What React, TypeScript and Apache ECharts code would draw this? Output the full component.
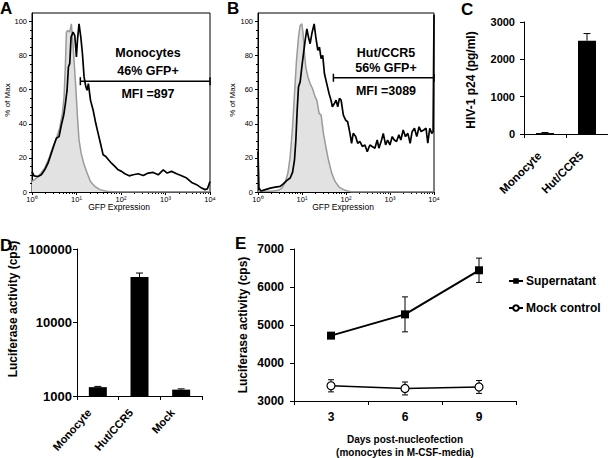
import React, { useEffect, useRef } from 'react';
import * as echarts from 'echarts';

const FONT = '"Liberation Sans", Arial, Helvetica, sans-serif';

// ---------- Panel A: monocytes, GFP histogram [GFP intensity, % of max]
const monoControl: number[][] = [
  [1.0, 6.2], [1.15, 7.2], [1.49, 10.1], [1.93, 14.0], [2.5, 20.8], [2.97, 26.7], [3.53, 31.5],
  [4.19, 37.4], [4.82, 46.1], [5.25, 55.8], [5.63, 74.3], [5.93, 93.8], [6.45, 94.7], [7.05, 93.8],
  [7.67, 98.6], [8.22, 88.9], [8.81, 77.2], [9.62, 61.7], [10.5, 44.2], [11.4, 30.5], [12.7, 22.8],
  [14.5, 16.9], [17.3, 11.1], [20.6, 6.2], [25.8, 3.3], [33.4, 1.4], [47.0, 0.4], [72.6, 0], [10000, 0],
];
const monoGFP: number[][] = [
  [1.0, 12], [1.11, 9.5], [1.36, 9.1], [1.62, 10.1], [1.93, 13.0], [2.29, 16.9], [2.72, 22.8],
  [3.13, 27.6], [3.53, 31.5], [4.05, 32.5], [4.57, 39.3], [5.16, 45.1], [5.63, 51.9], [6.14, 59.7],
  [6.58, 73.3], [7.05, 75.3], [7.55, 90.9], [8.38, 93.8], [9.14, 91.8], [9.96, 79.2], [10.5, 88.9],
  [11.4, 98.6], [12.5, 90.9], [13.6, 81.1], [14.8, 67.5], [16.2, 61.7], [17.3, 59.7], [18.5, 63.6],
  [20.6, 53.9], [23.6, 48.1], [27.1, 40.3], [30.6, 34.4], [34.5, 28.6], [39.7, 21.8], [45.6, 20.8],
  [52.3, 18.9], [61.1, 16.9], [72.6, 15.0], [86.3, 13.0], [103, 12.1], [122, 10.7], [153, 9.5],
  [188, 10.1], [243, 10.7], [316, 9.7], [409, 11.1], [530, 11.5], [687, 10.1], [889, 13.0],
  [1094, 11.1], [1370, 12.1], [1778, 10.7], [2301, 9.5], [2985, 8.2], [3866, 5.6], [5012, 4.3],
  [6490, 2.3], [7711, 1.4], [8710, 1.8], [10000, 6.2],
];
const gateA = [[12.2, 10000, 65]];
const textA = ['Monocytes', '46% GFP+', 'MFI =897'];

// ---------- Panel B: Hut/CCR5
const hutControl: number[][] = [
  [1.0, 0.4], [2.07, 0.4], [2.94, 1.0], [3.49, 2.3], [4.16, 5.6], [4.78, 11.1], [5.39, 20.8],
  [6.1, 38.3], [6.76, 57.8], [7.5, 77.2], [8.33, 90.9], [9.08, 97.7], [9.91, 98.6], [10.6, 92.8],
  [11.4, 81.1], [12.2, 73.3], [13.6, 67.5], [15.3, 63.6], [17.3, 60.7], [19.9, 55.8], [21.7, 53.9],
  [24.5, 46.1], [27.2, 45.1], [30.7, 34.4], [34.7, 26.7], [39.8, 18.9], [47.3, 11.1], [56.4, 6.2],
  [69.5, 2.9], [94.9, 1.0], [134, 0], [10000, 0],
];
const hutGFP: number[][] = [
  [1.0, 23.7], [1.05, 2.3], [1.17, 0.6], [1.47, 1.4], [1.9, 2.3], [2.47, 2.9], [3.2, 3.3],
  [3.81, 4.9], [4.53, 6.8], [5.39, 8.2], [6.1, 11.5], [6.76, 18.9], [7.25, 30.5], [7.77, 48.1],
  [8.33, 61.7], [9.08, 64.6], [9.91, 73.3], [10.8, 81.1], [11.8, 88.9], [12.9, 95.7], [14.0, 90.9],
  [15.3, 87.0], [16.7, 92.8], [18.9, 98.6], [20.6, 90.9], [22.9, 83.1], [24.9, 85.0], [27.2, 78.2],
  [29.6, 80.2], [32.3, 69.5], [36.5, 63.6], [41.2, 57.8], [45.6, 53.9], [49.0, 50.0], [54.4, 51.9],
  [59.4, 53.9], [64.9, 50.0], [70.9, 54.9], [77.4, 53.9], [87.0, 45.1], [98.3, 42.2], [109, 41.2],
  [123, 34.4], [134, 28.6], [146, 34.4], [166, 32.5], [184, 28.6], [208, 29.6], [235, 26.7],
  [269, 27.6], [304, 23.7], [349, 27.6], [394, 26.7], [453, 25.7], [512, 30.5], [559, 25.7],
  [644, 30.5], [703, 34.4], [794, 27.6], [881, 30.5], [995, 27.6], [1124, 32.5], [1247, 30.5],
  [1408, 29.6], [1590, 33.5], [1764, 30.5], [1992, 36.4], [2250, 32.5], [2543, 34.4], [2870, 28.6],
  [3184, 35.4], [3597, 37.4], [4060, 32.5], [4584, 38.3], [5087, 35.4], [5843, 36.4], [6596, 37.4],
  [7227, 28.6], [8016, 37.4], [8895, 34.4], [9539, 35.4], [10000, 104],
];
const gateB = [[51.7, 10000, 67]];
const textB = ['Hut/CCR5', '56% GFP+', 'MFI =3089'];

const histYTicks = [0, 20, 40, 60, 80, 100];
const histYMinor = [5, 10, 15, 25, 30, 35, 45, 50, 55, 65, 70, 75, 85, 90, 95];
const logMinor = [2, 3, 4, 5, 6, 7, 8, 9, 20, 30, 40, 50, 60, 70, 80, 90, 200, 300, 400, 500, 600, 700, 800, 900,
  2000, 3000, 4000, 5000, 6000, 7000, 8000, 9000];
const SUP = ['⁰', '¹', '²', '³', '⁴'];

// ---------- Panel C: HIV-1 p24
const cCategories = ['Monocyte', 'Hut/CCR5'];
const cValues = [25, 2500];
const cErrors = [15, 190];

// ---------- Panel D: luciferase
const dCategories = ['Monocyte', 'Hut/CCR5', 'Mock'];
const dValues = [1320, 41600, 1220];
const dErrors = [30, 5500, 30];

// ---------- Panel E: time course
const eDays = ['3', '6', '9'];
const supernatant = [4720, 5280, 6440];
const supernatantErr = [30, 460, 320];
const mockControl = [3400, 3330, 3370];
const mockErr = [160, 170, 170];

function buildOption(): any {
  const black = '#000';
  const axisLine = { show: true, lineStyle: { color: black, width: 1 } };
  const small = { fontFamily: FONT, fontSize: 7.5, color: black };
  const boldLbl = (s: number) => ({ fontFamily: FONT, fontSize: s, fontWeight: 'bold', color: black });

  const histX = (grid: number) => [
    {
      gridIndex: grid, type: 'log', logBase: 10, min: 1, max: 10000, position: 'bottom',
      axisLine, splitLine: { show: false },
      axisTick: { show: true, length: 3, lineStyle: { color: black } },
      axisLabel: { ...small, margin: 3, formatter: (v: number) => '10' + SUP[Math.round(Math.log10(v))] },
    },
    {
      gridIndex: grid, type: 'log', logBase: 10, min: 1, max: 10000, position: 'bottom',
      axisLine: { show: false }, splitLine: { show: false }, axisLabel: { show: false },
      axisTick: { show: true, length: 2, customValues: logMinor, lineStyle: { color: black } },
    },
  ];
  const histY = (grid: number) => [
    {
      gridIndex: grid, type: 'value', min: 0, max: 105, position: 'left',
      axisLine, splitLine: { show: false },
      axisTick: { show: true, length: 3, customValues: histYTicks, lineStyle: { color: black } },
      axisLabel: { ...small, margin: 5, customValues: histYTicks },
    },
    {
      gridIndex: grid, type: 'value', min: 0, max: 105, position: 'left',
      axisLine: { show: false }, splitLine: { show: false }, axisLabel: { show: false },
      axisTick: { show: true, length: 2, customValues: histYMinor, lineStyle: { color: black } },
    },
  ];

  const gateRender = (params: any, api: any) => {
    const p1 = api.coord([api.value(0), api.value(2)]);
    const p2 = api.coord([api.value(1), api.value(2)]);
    const st = { stroke: black, lineWidth: 1.5 };
    return {
      type: 'group',
      children: [
        { type: 'line', shape: { x1: p1[0], y1: p1[1], x2: p2[0], y2: p2[1] }, style: st },
        { type: 'line', shape: { x1: p1[0], y1: p1[1] - 4, x2: p1[0], y2: p1[1] + 4 }, style: st },
        { type: 'line', shape: { x1: p2[0], y1: p2[1] - 4, x2: p2[0], y2: p2[1] + 4 }, style: st },
      ],
    };
  };

  const barErrRender = (cap: number) => (params: any, api: any) => {
    const i = api.value(0), v = api.value(1), e = api.value(2);
    const b = api.coord([i, v]);
    const t = api.coord([i, v + e]);
    const st = { stroke: black, lineWidth: 1 };
    return {
      type: 'group',
      children: [
        { type: 'line', shape: { x1: b[0], y1: b[1], x2: t[0], y2: t[1] }, style: st },
        { type: 'line', shape: { x1: t[0] - cap / 2, y1: t[1], x2: t[0] + cap / 2, y2: t[1] }, style: st },
      ],
    };
  };

  const logBarRender = (params: any, api: any) => {
    const i = api.value(0), v = api.value(1);
    const p = api.coord([i, v]);
    const b = api.coord([i, 1000]);
    const w = 18;
    return { type: 'rect', shape: { x: p[0] - w / 2, y: p[1], width: w, height: b[1] - p[1] }, style: { fill: black } };
  };

  const lineErrRender = (params: any, api: any) => {
    const i = api.value(0), v = api.value(1), e = api.value(2);
    const lo = api.coord([i, v - e]);
    const hi = api.coord([i, v + e]);
    const cap = 6;
    const st = { stroke: black, lineWidth: 1 };
    return {
      type: 'group',
      children: [
        { type: 'line', shape: { x1: lo[0], y1: lo[1], x2: hi[0], y2: hi[1] }, style: st },
        { type: 'line', shape: { x1: hi[0] - cap / 2, y1: hi[1], x2: hi[0] + cap / 2, y2: hi[1] }, style: st },
        { type: 'line', shape: { x1: lo[0] - cap / 2, y1: lo[1], x2: lo[0] + cap / 2, y2: lo[1] }, style: st },
      ],
    };
  };

  const txt = (text: string, x: number, y: number, size: number, bold: boolean, rot = 0, align = 'center') => ({
    type: 'text', x, y, rotation: rot, silent: true,
    style: {
      text, fill: black, fontFamily: FONT, fontSize: size, fontWeight: bold ? 'bold' : 'normal',
      align, verticalAlign: 'middle',
    },
  });

  const catAxisBase = {
    type: 'category', position: 'bottom', axisLine,
    axisTick: { show: true, length: 4, lineStyle: { color: black } },
    splitLine: { show: false },
  };

  const g = (left: number, top: number, width: number, height: number, frame: boolean) => ({
    left, top, width, height, containLabel: false, outerBoundsMode: 'none',
    show: frame, borderColor: black, borderWidth: 1, backgroundColor: 'transparent',
  });

  return {
    animation: false,
    backgroundColor: '#fff',
    grid: [
      g(32, 13, 178, 179, true),
      g(258, 13, 176, 179, true),
      g(524, 22, 84, 112, false),
      g(77, 249, 125, 147, false),
      g(294, 249, 222, 152, false),
    ],
    xAxis: [
      ...histX(0),
      ...histX(1),
      {
        ...catAxisBase, gridIndex: 2, data: cCategories,
        axisLabel: { ...boldLbl(11.5), rotate: 45, margin: 14, interval: 0, padding: [0, 8, 0, 0] },
      },
      {
        ...catAxisBase, gridIndex: 3, data: dCategories,
        axisLabel: { ...boldLbl(11), rotate: 48, margin: 5, interval: 0, padding: [0, 13, 0, 0] },
      },
      { ...catAxisBase, gridIndex: 4, data: eDays, axisLabel: { ...boldLbl(12), margin: 10 } },
    ],
    yAxis: [
      ...histY(0),
      ...histY(1),
      {
        gridIndex: 2, type: 'value', min: 0, max: 3000, interval: 1000, axisLine, splitLine: { show: false },
        axisTick: { show: true, length: 4, lineStyle: { color: black } },
        axisLabel: { ...boldLbl(11), margin: 9, formatter: (v: number) => String(v) },
      },
      {
        gridIndex: 3, type: 'log', logBase: 10, min: 1000, max: 100000, axisLine, splitLine: { show: false },
        axisTick: { show: true, length: 4, lineStyle: { color: black } },
        axisLabel: { ...boldLbl(13), margin: 5, formatter: (v: number) => String(Math.round(v)) },
      },
      {
        gridIndex: 4, type: 'value', min: 3000, max: 7000, interval: 1000, axisLine, splitLine: { show: false },
        axisTick: { show: true, length: 4, lineStyle: { color: black } },
        axisLabel: { ...boldLbl(12), margin: 10, formatter: (v: number) => String(v) },
      },
    ],
    legend: {
      left: 503, top: 270, orient: 'vertical', itemGap: 15, itemWidth: 14, itemHeight: 7,
      data: ['Supernatant', 'Mock control'],
      textStyle: { ...boldLbl(12), padding: [0, 0, 0, -2] },
    },
    series: [
      {
        type: 'line', xAxisIndex: 0, yAxisIndex: 0, data: monoControl, showSymbol: false, symbol: 'none',
        lineStyle: { color: '#9a9a9a', width: 1.5 }, areaStyle: { color: '#e2e2e2', opacity: 1 }, z: 1,
      },
      {
        type: 'line', xAxisIndex: 0, yAxisIndex: 0, data: monoGFP, showSymbol: false, symbol: 'none',
        lineStyle: { color: black, width: 1.7 }, z: 2,
      },
      { type: 'custom', xAxisIndex: 0, yAxisIndex: 0, data: gateA, encode: { x: [0, 1], y: 2 }, renderItem: gateRender, z: 3 },
      {
        type: 'line', xAxisIndex: 2, yAxisIndex: 2, data: hutControl, showSymbol: false, symbol: 'none',
        lineStyle: { color: '#9a9a9a', width: 1.5 }, areaStyle: { color: '#e2e2e2', opacity: 1 }, z: 1,
      },
      {
        type: 'line', xAxisIndex: 2, yAxisIndex: 2, data: hutGFP, showSymbol: false, symbol: 'none',
        lineStyle: { color: black, width: 1.7 }, z: 2,
      },
      { type: 'custom', xAxisIndex: 2, yAxisIndex: 2, data: gateB, encode: { x: [0, 1], y: 2 }, renderItem: gateRender, z: 3 },
      {
        type: 'bar', xAxisIndex: 4, yAxisIndex: 4, data: cValues, barWidth: 18, itemStyle: { color: black },
      },
      {
        type: 'custom', xAxisIndex: 4, yAxisIndex: 4,
        data: cValues.map((v, i) => [i, v, cErrors[i]]), encode: { x: 0, y: 1 }, renderItem: barErrRender(7), z: 1,
      },
      {
        type: 'custom', xAxisIndex: 5, yAxisIndex: 5,
        data: dValues.map((v, i) => [i, v]), encode: { x: 0, y: 1 }, renderItem: logBarRender, z: 2,
      },
      {
        type: 'custom', xAxisIndex: 5, yAxisIndex: 5,
        data: dValues.map((v, i) => [i, v, dErrors[i]]), encode: { x: 0, y: 1 }, renderItem: barErrRender(7), z: 1,
      },
      {
        type: 'custom', xAxisIndex: 6, yAxisIndex: 6,
        data: supernatant.map((v, i) => [i, v, supernatantErr[i]]).concat(mockControl.map((v, i) => [i, v, mockErr[i]])),
        encode: { x: 0, y: 1 }, renderItem: lineErrRender, z: 1,
      },
      {
        name: 'Supernatant', type: 'line', xAxisIndex: 6, yAxisIndex: 6, data: supernatant,
        symbol: 'rect', symbolSize: 8, showSymbol: true,
        lineStyle: { color: black, width: 2 }, itemStyle: { color: black }, z: 3,
      },
      {
        name: 'Mock control', type: 'line', xAxisIndex: 6, yAxisIndex: 6, data: mockControl,
        symbol: 'circle', symbolSize: 8, showSymbol: true,
        lineStyle: { color: black, width: 1.5 }, itemStyle: { color: '#fff', borderColor: black, borderWidth: 1.2 }, z: 3,
      },
    ],
    graphic: [
      txt('A', 0, 8, 17, true, 0, 'left'),
      txt('B', 227, 8, 17, true, 0, 'left'),
      txt('C', 461, 9, 17, true, 0, 'left'),
      txt('D', 0, 245, 17, true, 0, 'left'),
      txt('E', 235, 243, 17, true, 0, 'left'),
      txt('% of Max', 7, 100, 8, false, Math.PI / 2),
      txt('% of Max', 232, 100, 8, false, Math.PI / 2),
      txt('GFP Expression', 119, 207, 8.5, false),
      txt('GFP Expression', 343, 207, 8.5, false),
      txt(textA[0], 148, 53, 12.5, true),
      txt(textA[1], 148, 71, 12.5, true),
      txt(textA[2], 148, 94, 12.5, true),
      txt(textB[0], 386, 53, 12.5, true),
      txt(textB[1], 386, 68, 12.5, true),
      txt(textB[2], 386, 91, 12.5, true),
      txt('HIV-1 p24 (pg/ml)', 471, 80, 12, true, Math.PI / 2),
      txt('Luciferase activity (cps)', 13, 309, 12, true, Math.PI / 2),
      txt('Luciferase activity (cps)', 243, 325, 12, true, Math.PI / 2),
      txt('Days post-nucleofection', 405, 439, 10, true),
      txt('(monocytes in M-CSF-media)', 405, 452, 10, true),
    ],
  };
}

export default function App() {
  const ref = useRef<HTMLDivElement>(null);
  useEffect(() => {
    document.body.style.margin = '0';
    const chart = echarts.init(ref.current!, null, { renderer: 'svg' });
    chart.setOption(buildOption());
    return () => chart.dispose();
  }, []);
  return <div ref={ref} style={{ width: 608, height: 458 }} />;
}
